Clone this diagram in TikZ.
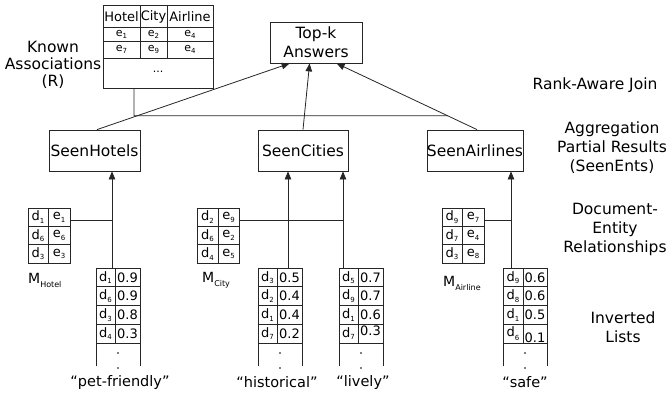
\documentclass[tikz,border=0pt]{standalone}
\usepackage{fontspec}
\setmainfont{DejaVu Sans}
\usetikzlibrary{arrows.meta,calc}
\newcommand\sub[3][2.5pt]{#2\raisebox{-#1}{\fontsize{7}{7}\selectfont #3}}
\tikzset{
 ln/.style={draw=black!85, line width=0.8pt},
 arr/.style={ln, -{Triangle[length=8pt,width=6.5pt]}},
 big/.style={inner sep=0pt, font=\fontsize{15.5}{19}\selectfont, align=center},
 box/.style={ln, big, minimum height=41pt},
 cell/.style={inner sep=0pt, font=\fontsize{13}{13}\selectfont},
 small/.style={inner sep=0pt, font=\fontsize{11}{11}\selectfont},
 hdr/.style={inner sep=0pt, font=\fontsize{13}{13}\selectfont},
 lbl/.style={inner sep=0pt, font=\fontsize{14.5}{14.5}\selectfont},
 mlbl/.style={inner sep=0pt, anchor=west, font=\fontsize{14}{14}\selectfont},
 frame/.style={inner sep=0pt, anchor=north west},
 dotm/.style={fill=black}
}
\newcommand\demat[4]{%
 \node[frame, ln, minimum width=42pt, minimum height=55pt] (#1) at (#2,208) {};
 \draw[ln] ($(#1.north west)+(#3,0)$) -- ($(#1.south west)+(#3,0)$);
 \draw[ln] ($(#1.north west)+(0,18.33)$) -- ++(42,0);
 \draw[ln] ($(#1.north west)+(0,36.67)$) -- ++(42,0);
 \foreach \d/\e [count=\i] in {#4} {
   \node[cell] (#1d\i) at ($(#1.north west)+({#3/2},{18.33*\i-9.17})$) {\sub{d}{\d}};
   \node[cell] (#1e\i) at ($(#1.north west)+({(#3+42)/2},{18.33*\i-9.17})$) {\sub{e}{\e}};
 }
}
\newcommand\invlist[4]{%
 \node[frame, minimum width=44pt, minimum height=98pt] (#1) at (#2,268) {};
 \draw[ln] (#1.south west) -- (#1.north west) -- (#1.north east) -- (#1.south east);
 \draw[ln] ($(#1.north west)+(#3,0)$) -- ++(0,75);
 \foreach \k in {1,2,3,4} \draw[ln] ($(#1.north west)+(0,18.75*\k)$) -- ++(44,0);
 \foreach \d/\v/\s/\t [count=\i] in {#4} {
   \node[cell] (#1d\i) at ($(#1.north west)+({#3/2},{18.75*\i-9.375})$) {\sub[\t]{d}{\d}};
   \node[cell] (#1v\i) at ($(#1.north west)+({(#3+44)/2},{18.75*\i-9.375+\s})$) {\v};
 }
 \fill[dotm] ($(#1.north west)+(22,85)$) circle (0.8);
 \fill[dotm] ($(#1.north west)+(22,100)$) circle (0.8);
}
\begin{document}
\begin{tikzpicture}[x=1pt,y=-1pt]
\useasboundingbox (0,0) rectangle (670,397);

% Known associations table
\node[frame, ln, minimum width=110pt, minimum height=83pt] (R) at (103,5) {};
\draw[ln] (140,5) -- (140,58) (167,5) -- (167,58);
\draw[ln] (103,27) -- (213,27) (103,41.5) -- (213,41.5) (103,58) -- (213,58);
\node[hdr] (rh1) at (121.5,16.5) {Hotel};
\node[hdr] (rh2) at (153.5,16.5) {City};
\node[hdr] (rh3) at (190,16.5) {Airline};
\node[small] (r11) at (121.5,34) {\sub[2pt]{e}{1}};
\node[small] (r12) at (153.5,34) {\sub[2pt]{e}{2}};
\node[small] (r13) at (190,34) {\sub[2pt]{e}{4}};
\node[small] (r21) at (121.5,49.5) {\sub[2pt]{e}{7}};
\node[small] (r22) at (153.5,49.5) {\sub[2pt]{e}{9}};
\node[small] (r23) at (190,49.5) {\sub[2pt]{e}{4}};
\node[small] (rdots) at (158,72) {...};
\node[inner sep=0pt, align=center, font=\fontsize{15.5}{17}\selectfont] (kal) at (53,65) {Known\\Associations\\(R)};

% Top-k and seen boxes
\node[box, minimum width=92pt] (topk) at (316,42.5) {Top-k\\Answers};
\node[box, minimum width=91pt] (sh) at (94.5,150.5) {SeenHotels};
\node[box, minimum width=90pt] (sc) at (303,150.5) {SeenCities};
\node[box, minimum width=92pt] (sa) at (475,150.5) {SeenAirlines};

% right-hand labels
\node[big] (l1) at (595,85) {Rank-Aware Join};
\node[big] (l2) at (612,147.5) {Aggregation\\Partial Results\\(SeenEnts)};
\node[big] (l3) at (615,229) {Document-\\Entity\\Relationships};
\node[big] (l4) at (623,327) {Inverted\\Lists};

% document-entity matrices
\demat{mh}{28}{20}{1/1,6/6,3/3}
\demat{mc}{197}{21}{2/9,6/2,4/5}
\demat{ma}{442}{20}{9/7,7/4,3/8}
\node[mlbl] (mhl) at (28,280) {M\raisebox{-4pt}{\fontsize{8}{8}\selectfont Hotel}};
\node[mlbl] (mcl) at (202,280) {M\raisebox{-4pt}{\fontsize{8}{8}\selectfont City}};
\node[mlbl] (mal) at (443,283) {M\raisebox{-4pt}{\fontsize{8}{8}\selectfont Airline}};

% inverted lists
\invlist{pet}{96}{19}{1/0.9/0/2.5pt,6/0.9/0/2.5pt,3/0.8/0/2.5pt,4/0.3/0/2.5pt}
\invlist{his}{258}{19}{3/0.5/0/2.5pt,2/0.4/0/2.5pt,1/0.4/0/2.5pt,7/0.2/0/2.5pt}
\invlist{liv}{339}{19}{5/0.7/0/2.5pt,9/0.7/0/2.5pt,1/0.6/0/2.5pt,7/0.3/-3/2.5pt}
\invlist{saf}{503}{20}{9/0.6/0/2.5pt,8/0.6/0/2.5pt,1/0.5/0/2.5pt,6/0.1/4/4.5pt}
\node[lbl, fill=white, inner sep=1pt] (qpet) at (120,382) {“pet-friendly”};
\node[lbl, fill=white, inner sep=1pt] (qhis) at (277,382) {“historical”};
\node[lbl, fill=white, inner sep=1pt] (qliv) at (363,382) {“lively”};
\node[lbl, fill=white, inner sep=1pt] (qsaf) at (525,382) {“safe”};

% connectors from lists to seen boxes
\coordinate (ph) at ($(pet.north west)+(16,0)$);
\coordinate (hc) at ($(his.north west)+(30,0)$);
\coordinate (lc) at ($(liv.north west)+(4,0)$);
\coordinate (sf) at ($(saf.north west)+(8,0)$);
\draw[arr] (ph) -- (ph |- sh.south);
\draw[arr] (hc) -- (hc |- sc.south);
\draw[arr] (lc) -- (lc |- sc.south);
\draw[arr] (sf) -- (sf |- sa.south);
\coordinate (mhc) at ($(mh.north east)+(0,12)$);
\coordinate (mcc) at ($(mc.north east)+(0,12)$);
\coordinate (mac) at ($(ma.north east)+(0,12)$);
\draw[ln] (mhc) -- (mhc -| ph);
\draw[ln] (mcc) -- (mcc -| lc);
\draw[ln] (mac) -- (mac -| sf);

% connectors to top-k
\coordinate (shn) at ($(sh.north)+(2.5,0)$);
\coordinate (tk1) at ($(topk.south west)+(20,0)$);
\coordinate (tk2) at ($(topk.south west)+(40,0)$);
\coordinate (san) at ($(sa.north)+(2,0)$);
\coordinate (tk3) at ($(topk.south west)+(67,0)$);
\draw[arr] (shn) -- (tk1);
\draw[arr] (sc.north) -- (tk2);
\draw[arr] (san) -- (tk3);
\coordinate (rj) at ($(R.south west)+(31,0)$);
\coordinate (rk) at ($(rj)+(0,27)$);
\coordinate (rk2) at ($(rk)+(400,0)$);
\draw[ln] (rj) -- (rk) -- (intersection of rk--rk2 and san--tk3);
\end{tikzpicture}
\end{document}
